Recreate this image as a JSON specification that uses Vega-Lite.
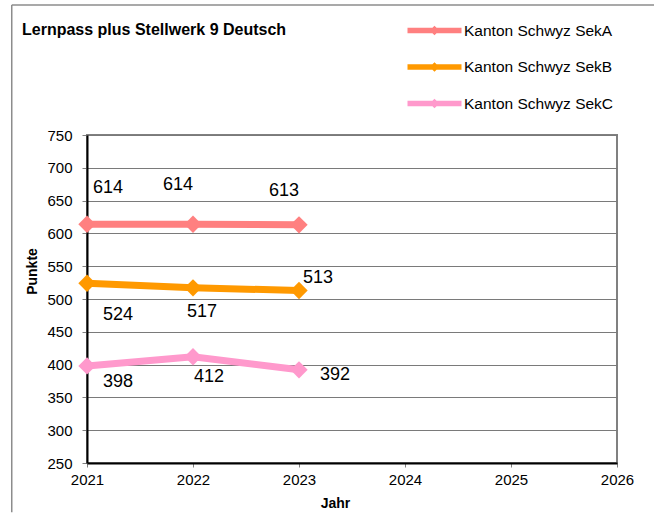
{
  "$schema": "https://vega.github.io/schema/vega-lite/v6.json",
  "width": 530,
  "height": 328,
  "autosize": "none",
  "padding": {"left": 87, "top": 135, "right": 37, "bottom": 52},
  "background": "white",
  "title": {"text": "Lernpass plus Stellwerk 9 Deutsch", "anchor": "start", "frame": "group", "dx": -65, "offset": -34, "font": "Liberation Sans", "fontSize": 16, "fontWeight": "bold", "color": "black"},
  "datasets": {
    "scores": [
      {"id": "A2021", "series": "Kanton Schwyz SekA", "year": 2021, "value": 614},
      {"id": "A2022", "series": "Kanton Schwyz SekA", "year": 2022, "value": 614},
      {"id": "A2023", "series": "Kanton Schwyz SekA", "year": 2023, "value": 613},
      {"id": "B2021", "series": "Kanton Schwyz SekB", "year": 2021, "value": 524},
      {"id": "B2022", "series": "Kanton Schwyz SekB", "year": 2022, "value": 517},
      {"id": "B2023", "series": "Kanton Schwyz SekB", "year": 2023, "value": 513},
      {"id": "C2021", "series": "Kanton Schwyz SekC", "year": 2021, "value": 398},
      {"id": "C2022", "series": "Kanton Schwyz SekC", "year": 2022, "value": 412},
      {"id": "C2023", "series": "Kanton Schwyz SekC", "year": 2023, "value": 392}
    ],
    "frame": [{"x1": 2020.29, "x2": 2027, "ytop": 948, "ybottom": 175}]
  },
  "data": {"name": "scores"},
  "encoding": {
    "x": {"field": "year", "type": "quantitative",
      "scale": {"domain": [2021, 2026], "nice": false, "zero": false},
      "axis": {"values": [2021, 2022, 2023, 2024, 2025, 2026], "format": "d", "grid": false, "title": "Jahr", "labelFlush": false,
        "titleX": 248, "titleY": 40, "titleAlign": "center", "titleBaseline": "middle",
        "tickSize": 4, "labelPadding": 5, "tickColor": "#808080", "domainColor": "black", "domainWidth": 2}},
    "y": {"field": "value", "type": "quantitative",
      "scale": {"domain": [250, 750], "nice": false, "zero": false},
      "axis": {"values": [250, 300, 350, 400, 450, 500, 550, 600, 650, 700, 750], "grid": true, "gridColor": "#7a7a7a", "gridWidth": 1.2, "title": "Punkte", "labelFlush": false,
        "titleX": -55, "titleY": 136, "titleAngle": -90, "titleAlign": "center", "titleBaseline": "middle",
        "tickSize": 5, "labelPadding": 10, "tickColor": "#808080", "domainColor": "black", "domainWidth": 2}}
  },
  "layer": [
    {
      "data": {"name": "frame"},
      "mark": {"type": "rule", "color": "#8c8c8c", "strokeWidth": 1.5, "clip": false},
      "encoding": {
        "x": {"field": "x1", "type": "quantitative"},
        "x2": {"field": "x2"},
        "y": {"field": "ytop", "type": "quantitative"}
      }
    },
    {
      "data": {"name": "frame"},
      "mark": {"type": "rule", "color": "#8c8c8c", "strokeWidth": 1.5, "clip": false},
      "encoding": {
        "x": {"field": "x1", "type": "quantitative"},
        "y": {"field": "ytop", "type": "quantitative"},
        "y2": {"field": "ybottom"}
      }
    },
    {
      "mark": {"type": "line", "strokeWidth": 7},
      "encoding": {
        "color": {"field": "series", "type": "nominal",
          "scale": {"domain": ["Kanton Schwyz SekA", "Kanton Schwyz SekB", "Kanton Schwyz SekC"], "range": ["#FF8080", "#FF9900", "#FF99CC"]}}
      }
    },
    {
      "mark": {"type": "point", "shape": "diamond", "filled": true, "size": 300, "opacity": 1},
      "encoding": {
        "color": {"field": "series", "type": "nominal",
          "legend": {"title": null, "orient": "none", "legendX": 334, "legendY": -118, "direction": "vertical",
            "symbolType": "M-2,-0.2H2V0.2H-2Z M0,-0.36L0.36,0L0,0.36L-0.36,0Z",
            "symbolSize": 729, "symbolStrokeWidth": 0, "symbolOpacity": 1,
            "labelOffset": 16, "labelFont": "Liberation Sans", "labelFontSize": 15.5, "labelColor": "black",
            "rowPadding": 14.5, "padding": 0}}
      }
    },
    {"transform": [{"filter": "datum.id == 'A2021'"}], "mark": {"type": "text", "dx": 21, "dy": -36, "fontSize": 18, "font": "Liberation Sans", "color": "black"}, "encoding": {"text": {"field": "value"}}},
    {"transform": [{"filter": "datum.id == 'A2022'"}], "mark": {"type": "text", "dx": -15, "dy": -39, "fontSize": 18, "font": "Liberation Sans", "color": "black"}, "encoding": {"text": {"field": "value"}}},
    {"transform": [{"filter": "datum.id == 'A2023'"}], "mark": {"type": "text", "dx": -15, "dy": -34, "fontSize": 18, "font": "Liberation Sans", "color": "black"}, "encoding": {"text": {"field": "value"}}},
    {"transform": [{"filter": "datum.id == 'B2021'"}], "mark": {"type": "text", "dx": 31, "dy": 32, "fontSize": 18, "font": "Liberation Sans", "color": "black"}, "encoding": {"text": {"field": "value"}}},
    {"transform": [{"filter": "datum.id == 'B2022'"}], "mark": {"type": "text", "dx": 9, "dy": 24, "fontSize": 18, "font": "Liberation Sans", "color": "black"}, "encoding": {"text": {"field": "value"}}},
    {"transform": [{"filter": "datum.id == 'B2023'"}], "mark": {"type": "text", "dx": 19, "dy": -12, "fontSize": 18, "font": "Liberation Sans", "color": "black"}, "encoding": {"text": {"field": "value"}}},
    {"transform": [{"filter": "datum.id == 'C2021'"}], "mark": {"type": "text", "dx": 31, "dy": 16, "fontSize": 18, "font": "Liberation Sans", "color": "black"}, "encoding": {"text": {"field": "value"}}},
    {"transform": [{"filter": "datum.id == 'C2022'"}], "mark": {"type": "text", "dx": 16, "dy": 20, "fontSize": 18, "font": "Liberation Sans", "color": "black"}, "encoding": {"text": {"field": "value"}}},
    {"transform": [{"filter": "datum.id == 'C2023'"}], "mark": {"type": "text", "dx": 36, "dy": 5, "fontSize": 18, "font": "Liberation Sans", "color": "black"}, "encoding": {"text": {"field": "value"}}}
  ],
  "config": {
    "view": {"stroke": "#808080", "strokeWidth": 2},
    "axis": {"labelFont": "Liberation Sans", "labelFontSize": 15, "labelColor": "black", "titleFont": "Liberation Sans", "titleFontSize": 14, "titleFontWeight": "bold", "titleColor": "black"}
  }
}
